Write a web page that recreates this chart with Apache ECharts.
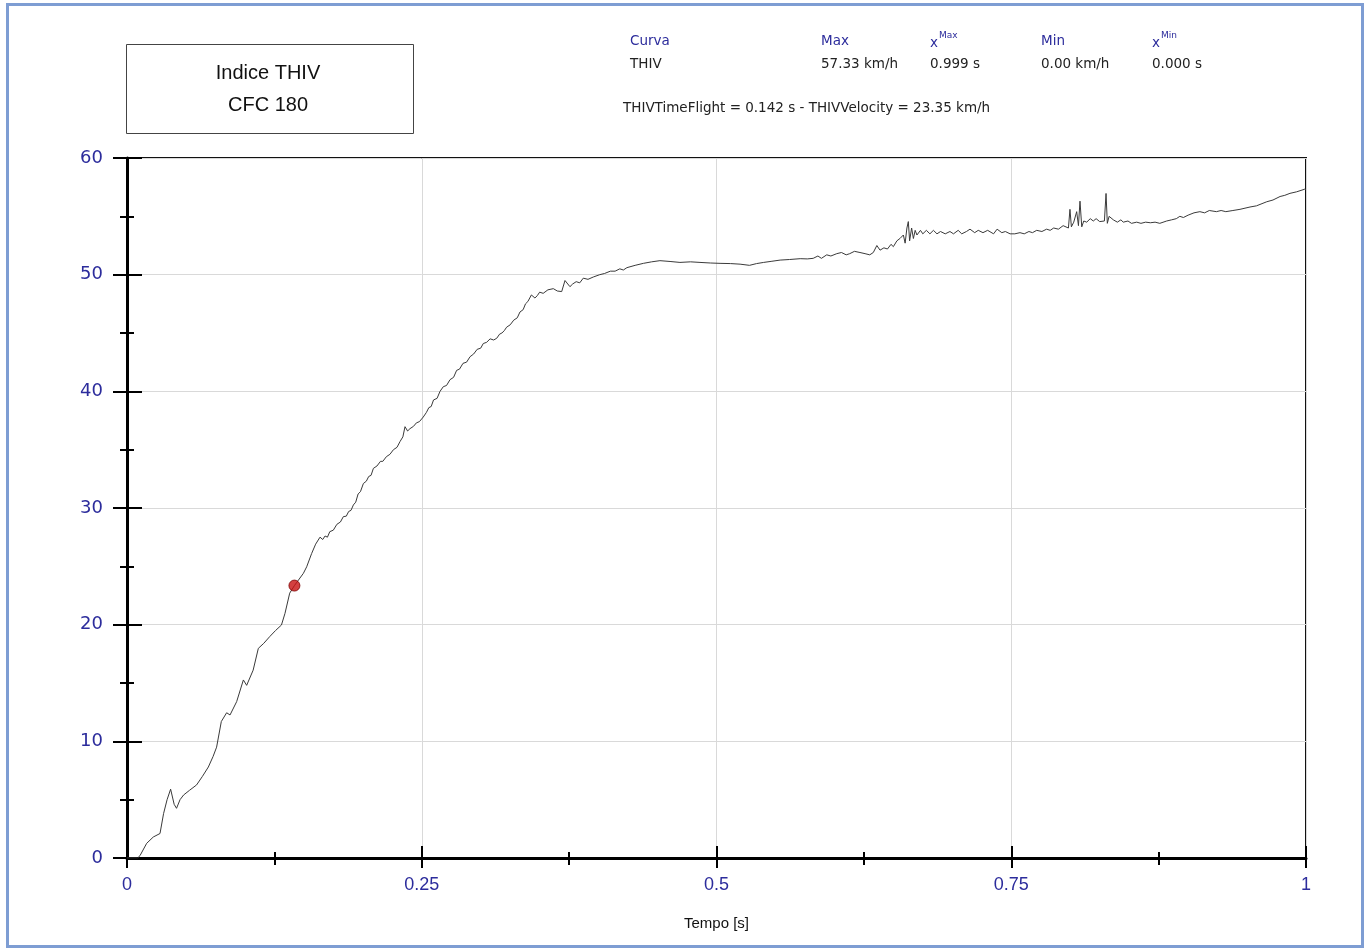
<!DOCTYPE html>
<html>
<head>
<meta charset="utf-8">
<script src="https://cdn.jsdelivr.net/npm/echarts@6/dist/echarts.min.js"></script>
<style>
html,body{margin:0;padding:0;background:#fff;}
#chart{position:absolute;left:0;top:0;width:1368px;height:951px;}
#frame{position:absolute;left:6px;top:3px;width:1352px;height:939px;border:3px solid #7e9dd3;pointer-events:none;}
</style>
</head>
<body>
<div id="chart"></div>
<div id="frame"></div>
<script>
// THIV curve samples: [time s, velocity km/h]
const thivCurve = [
  [0.000,0],[0.009,0],[0.011,0.2],[0.0167,1.26],[0.0223,1.8],[0.028,2.1],[0.031,3.8],[0.034,5.0],[0.037,5.9],
  [0.040,4.6],[0.042,4.26],[0.045,5.0],[0.048,5.4],[0.053,5.8],[0.059,6.26],[0.064,7.0],[0.069,7.8],[0.073,8.7],
  [0.076,9.5],[0.080,11.7],[0.0845,12.45],[0.0874,12.26],[0.093,13.4],[0.0987,15.26],[0.1015,14.8],[0.107,16.1],
  [0.1114,17.97],[0.116,18.4],[0.121,18.97],[0.126,19.5],[0.131,19.97],[0.134,20.97],[0.138,22.7],[0.142,23.35],
  [0.1496,24.4],[0.1524,24.96],[0.1566,26.1],[0.160,26.9],[0.1637,27.5],[0.166,27.3],[0.168,27.6],[0.170,27.5],
  [0.172,27.97],[0.175,28.1],[0.178,28.6],[0.181,28.8],[0.1835,29.26],[0.186,29.3],[0.188,29.7],[0.190,29.8],
  [0.192,30.26],[0.194,30.5],[0.196,31.2],[0.198,31.4],[0.2005,32.1],[0.203,32.3],[0.205,32.7],[0.207,32.8],
  [0.209,33.4],[0.212,33.6],[0.215,34.0],[0.217,34.0],[0.220,34.4],[0.223,34.6],[0.226,35.0],[0.229,35.2],
  [0.2316,35.7],[0.234,36.1],[0.2358,36.97],[0.238,36.6],[0.240,36.8],[0.243,37.0],[0.2455,37.3],[0.248,37.4],
  [0.2513,37.8],[0.254,38.2],[0.256,38.6],[0.258,38.7],[0.260,39.26],[0.263,39.4],[0.2655,40.0],[0.2683,40.4],
  [0.271,40.5],[0.274,41.0],[0.277,41.2],[0.2796,41.8],[0.282,41.9],[0.285,42.4],[0.288,42.5],[0.291,42.97],
  [0.294,43.2],[0.297,43.6],[0.300,43.7],[0.3022,44.1],[0.305,44.2],[0.308,44.5],[0.311,44.4],[0.3136,44.55],
  [0.316,44.9],[0.318,45.0],[0.320,45.2],[0.322,45.5],[0.325,45.7],[0.328,46.1],[0.331,46.3],[0.3333,46.8],
  [0.336,47.0],[0.338,47.5],[0.340,47.7],[0.343,48.26],[0.346,48.0],[0.348,48.2],[0.350,48.5],[0.353,48.4],
  [0.357,48.7],[0.3616,48.8],[0.365,48.6],[0.3687,48.55],[0.3715,49.5],[0.3757,48.97],[0.378,49.2],[0.381,49.4],
  [0.384,49.3],[0.387,49.7],[0.391,49.6],[0.3955,49.8],[0.401,50.0],[0.405,50.1],[0.410,50.3],[0.414,50.3],
  [0.418,50.5],[0.421,50.4],[0.424,50.6],[0.431,50.8],[0.438,50.97],[0.445,51.1],[0.452,51.2],[0.4606,51.13],
  [0.469,51.05],[0.478,51.1],[0.486,51.05],[0.495,51.0],[0.503,50.97],[0.512,50.95],[0.520,50.9],[0.528,50.8],
  [0.534,50.95],[0.540,51.05],[0.547,51.15],[0.554,51.25],[0.562,51.3],[0.571,51.37],[0.577,51.35],[0.582,51.4],
  [0.586,51.6],[0.589,51.4],[0.5935,51.7],[0.597,51.6],[0.602,51.8],[0.606,51.9],[0.610,51.7],[0.613,51.8],
  [0.617,52.0],[0.6217,51.9],[0.626,51.8],[0.630,51.7],[0.633,51.9],[0.636,52.5],[0.6387,52.1],[0.642,52.3],
  [0.645,52.2],[0.648,52.6],[0.650,52.4],[0.653,52.9],[0.6556,53.1],[0.6585,53.4],[0.660,52.7],[0.6615,54.0],
  [0.6627,54.55],[0.6638,52.9],[0.6655,54.0],[0.667,53.1],[0.6685,53.8],[0.670,53.4],[0.673,53.8],[0.675,53.5],
  [0.678,53.8],[0.681,53.5],[0.684,53.8],[0.687,53.5],[0.690,53.7],[0.694,53.5],[0.698,53.7],[0.701,53.5],
  [0.705,53.8],[0.708,53.5],[0.712,53.7],[0.715,53.9],[0.719,53.6],[0.722,53.8],[0.726,53.6],[0.730,53.8],
  [0.735,53.5],[0.738,53.9],[0.742,53.6],[0.745,53.7],[0.749,53.5],[0.753,53.5],[0.7574,53.6],[0.761,53.5],
  [0.765,53.7],[0.768,53.6],[0.7716,53.8],[0.776,53.7],[0.780,53.9],[0.783,53.8],[0.786,54.0],[0.790,53.9],
  [0.794,54.2],[0.7985,54.0],[0.7998,55.6],[0.801,54.1],[0.803,54.5],[0.8055,55.4],[0.807,54.2],[0.8083,56.3],
  [0.8098,54.1],[0.8115,54.6],[0.814,54.5],[0.817,54.8],[0.8196,54.6],[0.822,54.8],[0.825,54.55],[0.829,54.6],
  [0.8304,56.96],[0.8315,54.4],[0.833,55.0],[0.8366,54.7],[0.840,54.5],[0.843,54.7],[0.845,54.5],[0.849,54.6],
  [0.852,54.4],[0.8564,54.5],[0.860,54.4],[0.864,54.5],[0.868,54.45],[0.872,54.5],[0.876,54.4],[0.8818,54.6],
  [0.886,54.7],[0.890,54.8],[0.893,55.0],[0.896,54.9],[0.900,55.1],[0.905,55.3],[0.910,55.4],[0.914,55.3],
  [0.918,55.5],[0.924,55.4],[0.928,55.5],[0.932,55.4],[0.938,55.5],[0.944,55.6],[0.9525,55.8],[0.958,55.9],
  [0.9667,56.25],[0.972,56.4],[0.978,56.7],[0.982,56.8],[0.9864,56.97],[0.992,57.1],[0.999,57.33],[1.000,57.3]
];
// THIV point (time of flight, velocity)
const thivPoint = [0.142, 23.35];
// stats header
const statHeaders = ['Curva', 'Max', 'xMax', 'Min', 'xMin'];
const statRow = ['THIV', '57.33 km/h', '0.999 s', '0.00 km/h', '0.000 s'];
const statLine = 'THIVTimeFlight = 0.142 s - THIVVelocity = 23.35 km/h';
const titleLines = ['Indice THIV', 'CFC 180'];
const xAxisName = 'Tempo [s]';

const blue = '#2c2c9c';
const FONT = '"Liberation Sans", Arial, sans-serif';
const SFONT = '"DejaVu Sans", Verdana, sans-serif';

const chart = echarts.init(document.getElementById('chart'), null, {renderer: 'canvas'});

const colX = [630, 821, 930, 1041, 1152];
const graphics = [
  {type: 'rect', shape: {x: 126.5, y: 44.5, width: 287, height: 89},
   style: {fill: '#fff', stroke: '#444', lineWidth: 1}},
  {type: 'text', x: 268, y: 73, style: {text: titleLines[0], font: '20px ' + FONT, fill: '#111', align: 'center', verticalAlign: 'middle'}},
  {type: 'text', x: 268, y: 105, style: {text: titleLines[1], font: '20px ' + FONT, fill: '#111', align: 'center', verticalAlign: 'middle'}},
  {type: 'text', x: 623, y: 108, style: {text: statLine, font: '13.5px ' + SFONT, fill: '#222', verticalAlign: 'middle'}}
];
statHeaders.forEach((h, i) => {
  if (h.startsWith('x')) {
    graphics.push({type: 'text', x: colX[i], y: 43, style: {text: 'x', font: '13.5px ' + SFONT, fill: blue, verticalAlign: 'middle'}});
    graphics.push({type: 'text', x: colX[i] + 9, y: 36, style: {text: h.slice(1), font: '9px ' + SFONT, fill: blue, verticalAlign: 'middle'}});
  } else {
    graphics.push({type: 'text', x: colX[i], y: 41, style: {text: h, font: '13.5px ' + SFONT, fill: blue, verticalAlign: 'middle'}});
  }
});
statRow.forEach((s, i) => {
  graphics.push({type: 'text', x: colX[i], y: 64, style: {text: s, font: '13.5px ' + SFONT, fill: '#222', verticalAlign: 'middle'}});
});

const tickStyle = {color: '#000', width: 2};
const option = {
  backgroundColor: '#fff',
  animation: false,
  grid: {left: 127, right: 62, top: 158, bottom: 93, show: true, borderColor: '#111', borderWidth: 2, backgroundColor: 'transparent'},
  xAxis: [
    {type: 'value', min: 0, max: 1, interval: 0.25, position: 'bottom',
     axisLine: {show: true, onZero: false, lineStyle: {color: '#000', width: 3}},
     axisTick: {show: true, inside: false, length: 10, lineStyle: tickStyle},
     minorTick: {show: true, splitNumber: 2, length: 7, lineStyle: tickStyle},
     axisLabel: {color: blue, fontSize: 18, fontFamily: FONT, margin: 18},
     splitLine: {show: true, lineStyle: {color: '#d9d9d9', width: 1}},
     name: xAxisName, nameLocation: 'middle', nameGap: 58,
     nameTextStyle: {color: '#111', fontSize: 15, fontFamily: FONT}},
    {type: 'value', min: 0, max: 1, interval: 0.25, position: 'bottom',
     axisLine: {show: false, onZero: false},
     axisTick: {show: true, inside: true, length: 12, lineStyle: tickStyle},
     minorTick: {show: true, splitNumber: 2, length: 6, lineStyle: tickStyle},
     axisLabel: {show: false}, splitLine: {show: false}}
  ],
  yAxis: [
    {type: 'value', min: 0, max: 60, interval: 10, position: 'left',
     axisLine: {show: true, onZero: false, lineStyle: {color: '#000', width: 3}},
     axisTick: {show: true, inside: false, length: 14, lineStyle: tickStyle},
     minorTick: {show: true, splitNumber: 2, length: 7, lineStyle: tickStyle},
     axisLabel: {color: blue, fontSize: 18, fontFamily: SFONT, margin: 24},
     splitLine: {show: true, lineStyle: {color: '#d9d9d9', width: 1}}},
    {type: 'value', min: 0, max: 60, interval: 10, position: 'left',
     axisLine: {show: false, onZero: false},
     axisTick: {show: true, inside: true, length: 15, lineStyle: tickStyle},
     minorTick: {show: true, splitNumber: 2, length: 7, lineStyle: tickStyle},
     axisLabel: {show: false}, splitLine: {show: false}}
  ],
  graphic: graphics,
  series: [
    {type: 'line', xAxisIndex: 0, yAxisIndex: 0, data: thivCurve, showSymbol: false, symbol: 'none',
     lineStyle: {color: '#3a3a3a', width: 1}, z: 3},
    {type: 'scatter', xAxisIndex: 0, yAxisIndex: 0, data: [thivPoint], symbol: 'circle', symbolSize: 11,
     itemStyle: {color: '#c81010', borderColor: '#7a0000', borderWidth: 1}, z: 5}
  ]
};
chart.setOption(option);
</script>
</body>
</html>
